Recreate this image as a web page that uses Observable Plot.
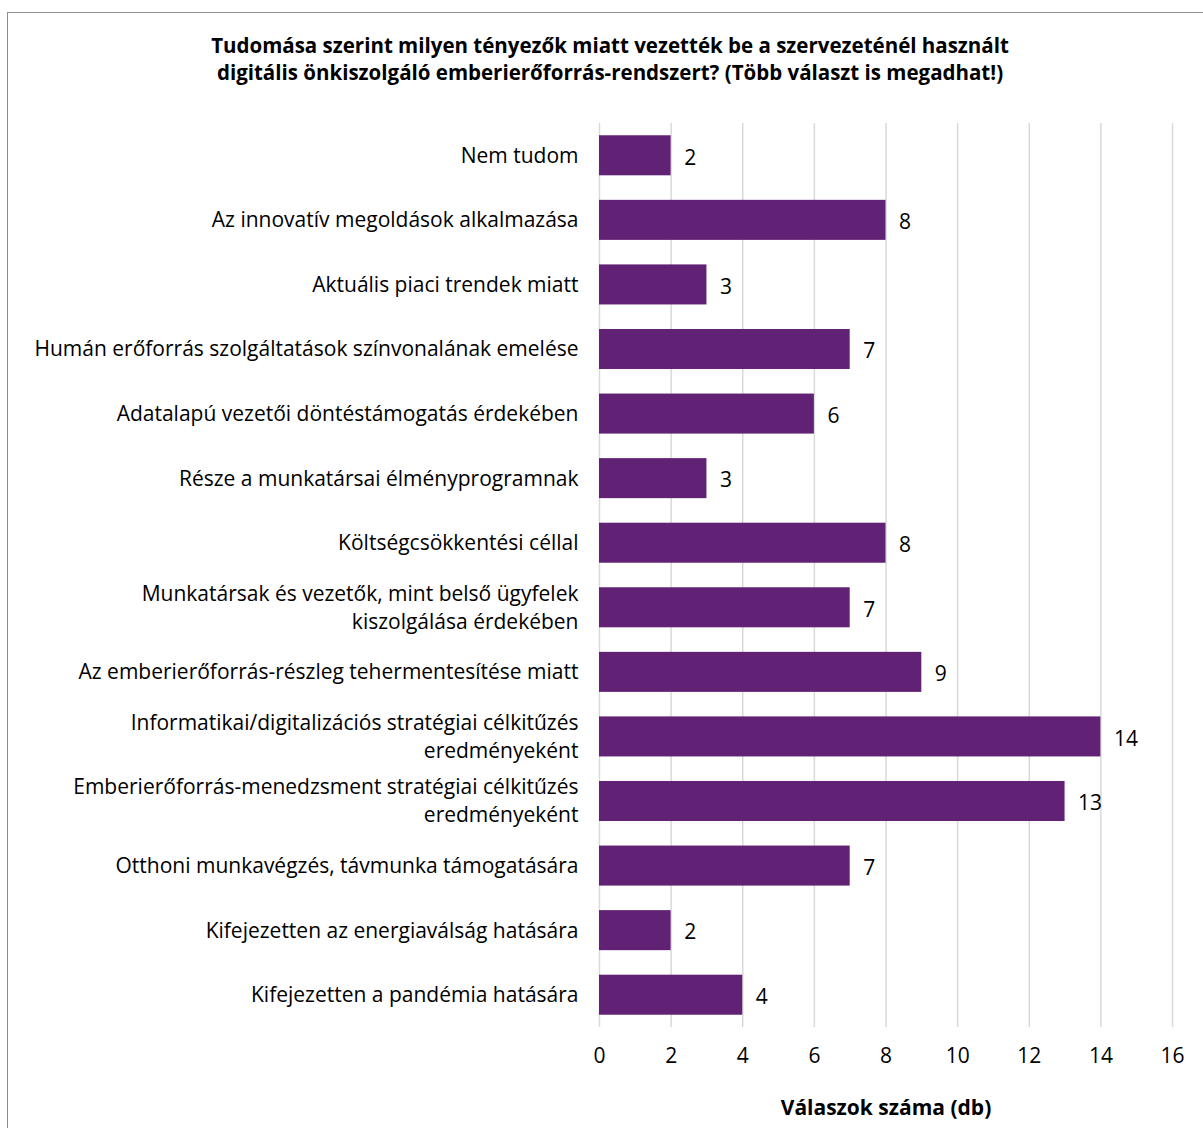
<!DOCTYPE html>
<html>
<head>
<meta charset="utf-8">
<script src="https://cdn.jsdelivr.net/npm/d3@7"></script>
<script src="https://cdn.jsdelivr.net/npm/@observablehq/plot@0.6"></script>
<style>
  html, body { margin: 0; padding: 0; background: #fff; width: 1203px; height: 1128px; overflow: hidden; }
  #frame { position: absolute; left: 7px; top: 12px; width: 1300px; height: 1300px; border: 1.5px solid #8c8c8c; box-sizing: border-box; }
  #title { position: absolute; left: 0; top: 32px; width: 1220px; text-align: center; font-family: "Open Sans", sans-serif; font-weight: bold; font-size: 20.5px; line-height: 27px; color: #000; }
  #chart { position: absolute; left: 0; top: 100px; }
</style>
</head>
<body>
<div id="frame"></div>
<div id="title">Tudomása szerint milyen tényezők miatt vezették be a szervezeténél használt<br>digitális önkiszolgáló emberierőforrás-rendszert? (Több választ is megadhat!)</div>
<div id="chart"></div>
<script>
const categories = [
  "Nem tudom",
  "Az innovatív megoldások alkalmazása",
  "Aktuális piaci trendek miatt",
  "Humán erőforrás szolgáltatások színvonalának emelése",
  "Adatalapú vezetői döntéstámogatás érdekében",
  "Része a munkatársai élményprogramnak",
  "Költségcsökkentési céllal",
  "Munkatársak és vezetők, mint belső ügyfelek\nkiszolgálása érdekében",
  "Az emberierőforrás-részleg tehermentesítése miatt",
  "Informatikai/digitalizációs stratégiai célkitűzés\neredményeként",
  "Emberierőforrás-menedzsment stratégiai célkitűzés\neredményeként",
  "Otthoni munkavégzés, távmunka támogatására",
  "Kifejezetten az energiaválság hatására",
  "Kifejezetten a pandémia hatására"
];
const values = [2, 8, 3, 7, 6, 3, 8, 7, 9, 14, 13, 7, 2, 4];
const xTicks = [0, 2, 4, 6, 8, 10, 12, 14, 16];
const xLabel = "Válaszok száma (db)";

const data = categories.map((c, i) => ({category: c, value: values[i]}));

const FS = 21;

const chart = Plot.plot({
  width: 1203,
  height: 1028,
  marginLeft: 599,
  marginRight: 31,
  marginTop: 23,
  marginBottom: 101,
  style: {fontFamily: "Open Sans, sans-serif", fontSize: FS + "px", color: "#000", background: "transparent"},
  x: {domain: [0, 16], ticks: xTicks},
  y: {domain: categories, paddingInner: 0.38, paddingOuter: 0.19, round: false},
  marks: [
    Plot.gridX(xTicks, {stroke: "#d9d9d9", strokeWidth: 1.5, strokeOpacity: 1}),
    Plot.barX(data, {x: "value", y: "category", fill: "#612174"}),
    Plot.text(data, {x: "value", y: "category", text: d => String(d.value), textAnchor: "start", dx: 13, dy: 2, fill: "#000", fontSize: FS}),
    Plot.axisY({tickSize: 0, tickPadding: 21, label: null, lineHeight: 1.33, fontSize: FS, dy: -2}),
    Plot.axisX(xTicks, {tickSize: 0, tickPadding: 21, label: null, fontSize: FS}),
    Plot.text([xLabel], {frameAnchor: "bottom", dy: 87, fontWeight: "bold", fontSize: FS, fill: "#000"})
  ]
});
document.getElementById("chart").appendChild(chart);
</script>
</body>
</html>
